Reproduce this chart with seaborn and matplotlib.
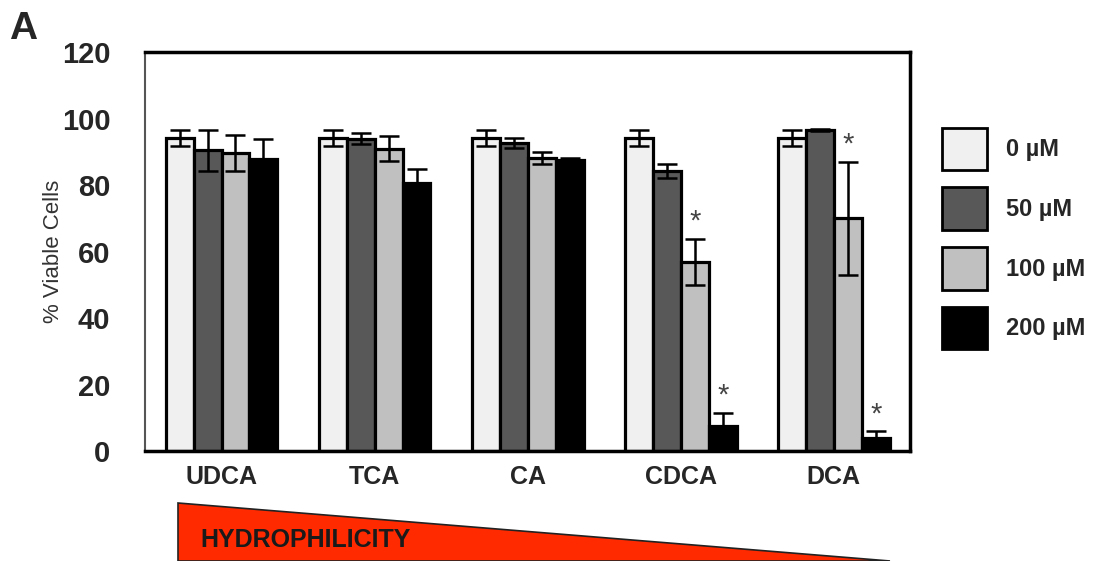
import numpy as np
import pandas as pd
import matplotlib
matplotlib.use('Agg')
import matplotlib.pyplot as plt
import seaborn as sns
from matplotlib.patches import Polygon

# ==============================
# DATA
# ==============================
ACIDS = ["UDCA", "TCA", "CA", "CDCA", "DCA"]
DOSES = ["0 µM", "50 µM", "100 µM", "200 µM"]

VIABLE_0 = [94.2, 94.2, 94.2, 94.2, 94.2]
VIABLE_50 = [90.5, 94.0, 92.6, 84.3, 96.7]
VIABLE_100 = [89.6, 91.0, 88.3, 56.9, 70.0]
VIABLE_200 = [88.0, 80.6, 87.7, 7.5, 3.9]

ERR_0 = [2.4, 2.4, 2.4, 2.4, 2.4]
ERR_50 = [6.2, 1.6, 1.5, 2.2, 0.3]
ERR_100 = [5.4, 3.8, 1.8, 7.0, 17.0]
ERR_200 = [6.0, 4.2, 0.6, 4.0, 2.0]

# significant (acid, dose) pairs
SIGNIF = [("CDCA", "100 µM"), ("CDCA", "200 µM"), ("DCA", "100 µM"), ("DCA", "200 µM")]

COLORS = ["#f0f0f0", "#585858", "#c0c0c0", "#000000"]

# ==============================
# BUILD TABLE
# ==============================
values = [VIABLE_0, VIABLE_50, VIABLE_100, VIABLE_200]
errors = [ERR_0, ERR_50, ERR_100, ERR_200]
rows = []
for d, dose in enumerate(DOSES):
    for a, acid in enumerate(ACIDS):
        rows.append({"acid": acid, "dose": dose, "viable": values[d][a], "err": errors[d][a]})
df = pd.DataFrame(rows)

# ==============================
# PLOT
# ==============================
sns.set_style("white")
plt.rcParams['font.family'] = ['Liberation Sans', 'DejaVu Sans']

fig = plt.figure(figsize=(10.95, 5.61), dpi=100)
ax = fig.add_axes([0.1324, 0.196, 0.699, 0.711])

sns.barplot(data=df, x="acid", y="viable", hue="dose", order=ACIDS, hue_order=DOSES,
            palette=COLORS, width=0.73, errorbar=None, edgecolor="black",
            linewidth=2.3, ax=ax, legend=True)

# error bars + asterisks, placed at the bar centres seaborn computed
for d, dose in enumerate(DOSES):
    cont = ax.containers[d]
    for a, bar in enumerate(cont):
        xc = bar.get_x() + bar.get_width() / 2
        h = bar.get_height()
        e = errors[d][a]
        ax.errorbar(xc, h, yerr=e, fmt="none", ecolor="black", elinewidth=1.8,
                    capsize=7, capthick=1.8, zorder=5)
        if (ACIDS[a], dose) in SIGNIF:
            ax.text(xc, h + e + 1.0, "*", ha="center", va="bottom",
                    fontsize=21, color="#444444")

ax.set_xlim(-0.5, 4.5)
ax.set_ylim(0, 120)
ax.set_yticks(range(0, 121, 20))
ax.set_xlabel("")
ax.set_ylabel("% Viable Cells", fontsize=16, color="#333333", labelpad=-2)

for lab in ax.get_yticklabels():
    lab.set_fontweight("bold")
    lab.set_fontsize(21)
for lab in ax.get_xticklabels():
    lab.set_fontweight("bold")
    lab.set_fontsize(18)

ax.tick_params(axis="y", direction="in", length=6, color="#888888", pad=25)
ax.tick_params(axis="x", length=0, pad=10)

for side in ["top", "right", "bottom"]:
    ax.spines[side].set_color("black")
    ax.spines[side].set_linewidth(2.5)
ax.spines["left"].set_color("#555555")
ax.spines["left"].set_linewidth(1.5)

# legend outside on the right
handles, labels = ax.get_legend_handles_labels()
ax.legend_.remove()
leg = fig.legend(handles, labels, loc="upper left", bbox_to_anchor=(0.841, 0.81),
                 frameon=False, handlelength=1.9, handleheight=2.4, labelspacing=0.72,
                 handletextpad=0.8, prop={"weight": "bold", "size": 17})
for p in leg.get_patches():
    p.set_edgecolor("black")
    p.set_linewidth(2)

# panel letter
fig.text(0.008, 0.93, "A", fontsize=28, fontweight="bold")

# hydrophilicity wedge
wedge = Polygon([(178 / 1095, (561 - 503) / 561), (890 / 1095, 0.0), (178 / 1095, 0.0)],
                closed=True, transform=fig.transFigure, facecolor="#ff2a00",
                edgecolor="#222222", linewidth=1.2)
fig.patches.append(wedge)
fig.text(200 / 1095, (561 - 540) / 561, "HYDROPHILICITY", fontsize=18,
         fontweight="bold", color="#1a1a1a", va="center")

plt.savefig("out.png", dpi=100)
